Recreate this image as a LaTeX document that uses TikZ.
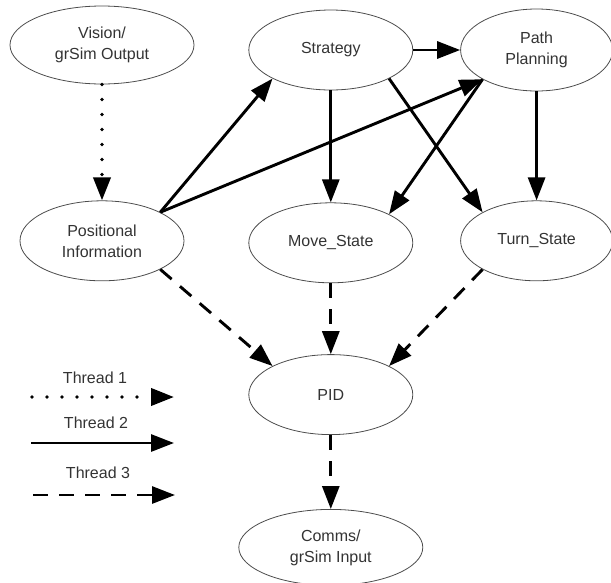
\documentclass[tikz,border=0pt]{standalone}
\usepackage{fontspec}
\setmainfont{Liberation Sans}
\usepackage{tikz}
\usetikzlibrary{shapes.geometric, arrows.meta, positioning}

\begin{document}
\begin{tikzpicture}[
    x=1pt, y=1pt,
    node distance=50pt,
    font=\fontsize{16}{21}\selectfont,
    state/.style={ellipse, draw=black!70, line width=0.8pt, text=black!80, align=center,
                  minimum width=164pt, minimum height=80pt, inner sep=0pt},
    label/.style={text=black!80},
    arrow/.style={line width=2.9pt, -{Triangle[length=23pt, width=17pt]}},
    thread1/.style={arrow, line cap=round, dash pattern=on 0pt off 15pt, line width=3.8pt},
    thread2/.style={arrow},
    thread3/.style={arrow, dash pattern=on 15pt off 11pt}
]
\useasboundingbox (0,0) rectangle (611,-582);

\node[state, minimum width=184pt, minimum height=78pt] (vision) at (102,-45) {Vision/\\grSim Output};
\node[state, below=116pt of vision] (positional) {Positional\\Information};
\node[state, right=54pt of vision, yshift=-5pt] (strategy) {Strategy};
\node[state, right=47pt of strategy, minimum width=152pt, minimum height=82pt] (path) {Path\\Planning};
\node[state, below=112pt of strategy] (move) {Move\_State};
\node[state, below=109pt of path, minimum width=152pt] (turn) {Turn\_State};
\node[state, below=71pt of move] (pid) {PID};
\node[state, below=74pt of pid, minimum width=184pt, minimum height=76pt] (comms) {Comms/\\grSim Input};

% thread 1
\draw[thread1] (vision) -- (positional);

% thread 2
\draw[thread2] (strategy) -- (path);
\draw[thread2] (positional.north east) -- (strategy.south west);
\draw[thread2] (positional.north east) -- (path.south west);
\draw[thread2] (strategy) -- (move);
\draw[thread2] (strategy.south east) -- (turn.north west);
\draw[thread2] (path.south west) -- (move.north east);
\draw[thread2] (path) -- (turn);

% thread 3
\draw[thread3] (positional.south east) -- (pid.north west);
\draw[thread3] (move) -- (pid);
\draw[thread3] (turn.south west) -- (pid.north east);
\draw[thread3] (pid) -- (comms);

% legend
\node[label] (key1) at (95,-378) {Thread 1};
\node[label] (key2) at (96,-423) {Thread 2};
\node[label] (key3) at (98,-473) {Thread 3};
\coordinate (key1a) at (32,-397);
\coordinate (key1b) at (174,-397);
\coordinate (key2a) at (31,-443);
\coordinate (key2b) at (174,-443);
\coordinate (key3a) at (33,-495);
\coordinate (key3b) at (175,-495);
\draw[thread1] (key1a) -- (key1b);
\draw[thread2] (key2a) -- (key2b);
\draw[thread3] (key3a) -- (key3b);
\end{tikzpicture}
\end{document}
